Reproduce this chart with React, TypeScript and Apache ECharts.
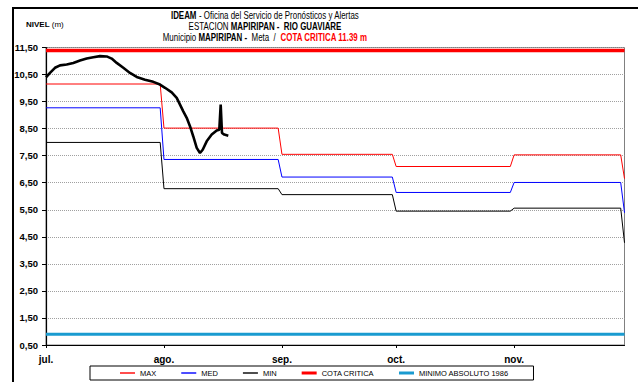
import React, { useEffect, useRef } from "react";
import * as echarts from "echarts";

// Month ticks on a day-index axis (day 0 = 1 July)
const monthLabels = ["jul.", "ago.", "sep.", "oct.", "nov."];
const monthStart = [0, 31, 62, 92, 123];
const monthEnd = [30, 61, 91, 122, 151];
const lastDay = 152;

// Monthly reference levels (m) and the value at the closing day
const maxLevels = [10.15, 8.52, 7.55, 7.1, 7.53];
const maxClose = 6.65;
const medLevels = [9.27, 7.36, 6.71, 6.14, 6.51];
const medClose = 5.39;
const minLevels = [7.99, 6.28, 6.06, 5.45, 5.56];
const minClose = 4.28;

const cotaCritica = 11.39;
const minimoAbsoluto = 0.9;

// Observed water level (day index, level in m)
const obsDays = [
  0, 1.05, 2.36, 3.68, 5.44, 7.17, 8.93, 10.69, 12.43, 14.19, 15.95, 17.26,
  18.58, 20.31, 22.07, 23.83, 26.01, 28.19, 29.95, 31.27, 33.03, 34.34, 35.21,
  36.07, 36.97, 37.83, 38.7, 39.6, 40.46, 41.17, 42.22, 43.54, 44.85, 45.53,
  45.9, 46.24, 46.85, 47.9,
];
const obsLevels = [
  10.4, 10.56, 10.75, 10.84, 10.87, 10.93, 11.02, 11.09, 11.14, 11.18, 11.17,
  11.09, 10.93, 10.75, 10.56, 10.41, 10.31, 10.23, 10.13, 10.01, 9.84, 9.64,
  9.39, 9.14, 8.9, 8.59, 8.21, 7.79, 7.6, 7.72, 8.03, 8.28, 8.43, 8.46, 9.39,
  8.34, 8.28, 8.24,
];

const FONT = '"Liberation Sans", Arial, Helvetica, sans-serif';

// Legend glyphs: a flat bar whose thickness follows the series line width
const thinIcon = "path://M0,0h15v1.4h-15z";
const thickIcon = "path://M0,0h15v3h-15z";

function monthlySteps(levels: number[], close: number): number[][] {
  const pts: number[][] = [];
  levels.forEach((v, i) => {
    pts.push([monthStart[i], v]);
    pts.push([monthEnd[i], v]);
  });
  pts.push([lastDay, close]);
  return pts;
}

export default function App() {
  const ref = useRef<HTMLDivElement>(null);

  useEffect(() => {
    if (!ref.current) return;
    const chart = echarts.init(ref.current, undefined, { renderer: "svg" });

    const titleStyle = {
      fontFamily: FONT,
      fontSize: 10.5,
      fill: "#000",
      align: "center",
      verticalAlign: "middle",
      rich: {
        b: { fontFamily: FONT, fontSize: 10.5, fontWeight: "bold", fill: "#000" },
        r: { fontFamily: FONT, fontSize: 10.5, fontWeight: "bold", fill: "#FF0000" },
      },
    };

    chart.setOption({
      animation: false,
      backgroundColor: "#fff",
      grid: {
        left: 46,
        right: 13.5,
        top: 47.5,
        bottom: 37,
        show: true,
        borderColor: "#808080",
        borderWidth: 1,
        backgroundColor: "#fff",
      },
      xAxis: {
        type: "value",
        min: 0,
        max: lastDay,
        axisLine: { show: true, lineStyle: { color: "#000", width: 1.2 } },
        axisTick: {
          show: true,
          length: 3,
          customValues: monthStart,
          lineStyle: { color: "#000" },
        },
        axisLabel: {
          customValues: monthStart,
          formatter: (v: number) => monthLabels[monthStart.indexOf(v)] ?? "",
          fontFamily: FONT,
          fontSize: 10,
          fontWeight: "bold",
          color: "#000",
          margin: 9,
        },
        splitLine: { show: false },
      },
      yAxis: {
        type: "value",
        min: 0.5,
        max: 11.5,
        interval: 1,
        axisLine: { show: true, lineStyle: { color: "#000", width: 1.2 } },
        axisTick: { show: true, length: 4, lineStyle: { color: "#000" } },
        axisLabel: {
          formatter: (v: number) => v.toFixed(2).replace(".", ","),
          fontFamily: FONT,
          fontSize: 9.5,
          fontWeight: "bold",
          color: "#000",
          margin: 8,
        },
        splitLine: {
          show: true,
          lineStyle: { color: "#A0A0A0", type: "dotted", width: 1 },
        },
      },
      legend: {
        left: 90,
        top: 366,
        padding: [3, 25, 3, 30],
        itemGap: 25,
        itemWidth: 15,
        itemHeight: 8,
        borderColor: "#000",
        borderWidth: 1,
        backgroundColor: "#fff",
        textStyle: { fontFamily: FONT, fontSize: 7.5, color: "#000" },
        data: [
          { name: "MAX", icon: thinIcon },
          { name: "MED", icon: thinIcon },
          { name: "MIN", icon: thinIcon },
          { name: "COTA CRITICA", icon: thickIcon },
          { name: "MINIMO ABSOLUTO 1986", icon: thickIcon },
        ],
      },
      graphic: [
        {
          type: "rect",
          shape: { x: 13, y: 8, width: 700, height: 450 },
          style: { fill: "none", stroke: "#000", lineWidth: 2 },
          silent: true,
        },
        {
          type: "text",
          x: 26,
          y: 24,
          style: {
            text: "{b|NIVEL} (m)",
            fontFamily: FONT,
            fontSize: 8,
            fill: "#000",
            verticalAlign: "middle",
            rich: { b: { fontFamily: FONT, fontSize: 8, fontWeight: "bold", fill: "#000" } },
          },
        },
        {
          type: "group",
          x: 265,
          y: 0,
          scaleX: 0.755,
          children: [
            {
              type: "text",
              x: 0,
              y: 16,
              style: {
                ...titleStyle,
                text: "{b|IDEAM} - Oficina del Servicio de Pronósticos y Alertas",
              },
            },
            {
              type: "text",
              x: 0,
              y: 27,
              style: {
                ...titleStyle,
                text: "ESTACION {b|MAPIRIPAN -  RIO GUAVIARE}",
              },
            },
            {
              type: "text",
              x: 0,
              y: 38,
              style: {
                ...titleStyle,
                text: "Municipio {b|MAPIRIPAN -}  Meta  /  {r|COTA CRITICA 11.39 m}",
              },
            },
          ],
        },
      ],
      series: [
        {
          name: "MAX",
          type: "line",
          symbol: "none",
          data: monthlySteps(maxLevels, maxClose),
          lineStyle: { color: "#FF0000", width: 1 },
          itemStyle: { color: "#FF0000" },
          z: 3,
        },
        {
          name: "MED",
          type: "line",
          symbol: "none",
          data: monthlySteps(medLevels, medClose),
          lineStyle: { color: "#0000FF", width: 1 },
          itemStyle: { color: "#0000FF" },
          z: 3,
        },
        {
          name: "MIN",
          type: "line",
          symbol: "none",
          data: monthlySteps(minLevels, minClose),
          lineStyle: { color: "#000000", width: 1 },
          itemStyle: { color: "#000000" },
          z: 3,
        },
        {
          name: "COTA CRITICA",
          type: "line",
          symbol: "none",
          data: [
            [0, cotaCritica],
            [lastDay, cotaCritica],
          ],
          lineStyle: { color: "#FF0000", width: 3.5 },
          itemStyle: { color: "#FF0000" },
          z: 3,
        },
        {
          name: "MINIMO ABSOLUTO 1986",
          type: "line",
          symbol: "none",
          data: [
            [0, minimoAbsoluto],
            [lastDay, minimoAbsoluto],
          ],
          lineStyle: { color: "#1A9BD0", width: 3 },
          itemStyle: { color: "#1A9BD0" },
          z: 3,
        },
        {
          name: "NIVEL",
          type: "line",
          symbol: "none",
          data: obsDays.map((d, i) => [d, obsLevels[i]]),
          lineStyle: { color: "#000000", width: 2.6 },
          itemStyle: { color: "#000000" },
          z: 4,
        },
      ],
    });

    return () => chart.dispose();
  }, []);

  return (
    <div
      ref={ref}
      style={{ position: "fixed", left: 0, top: 0, width: 638, height: 382 }}
    />
  );
}
